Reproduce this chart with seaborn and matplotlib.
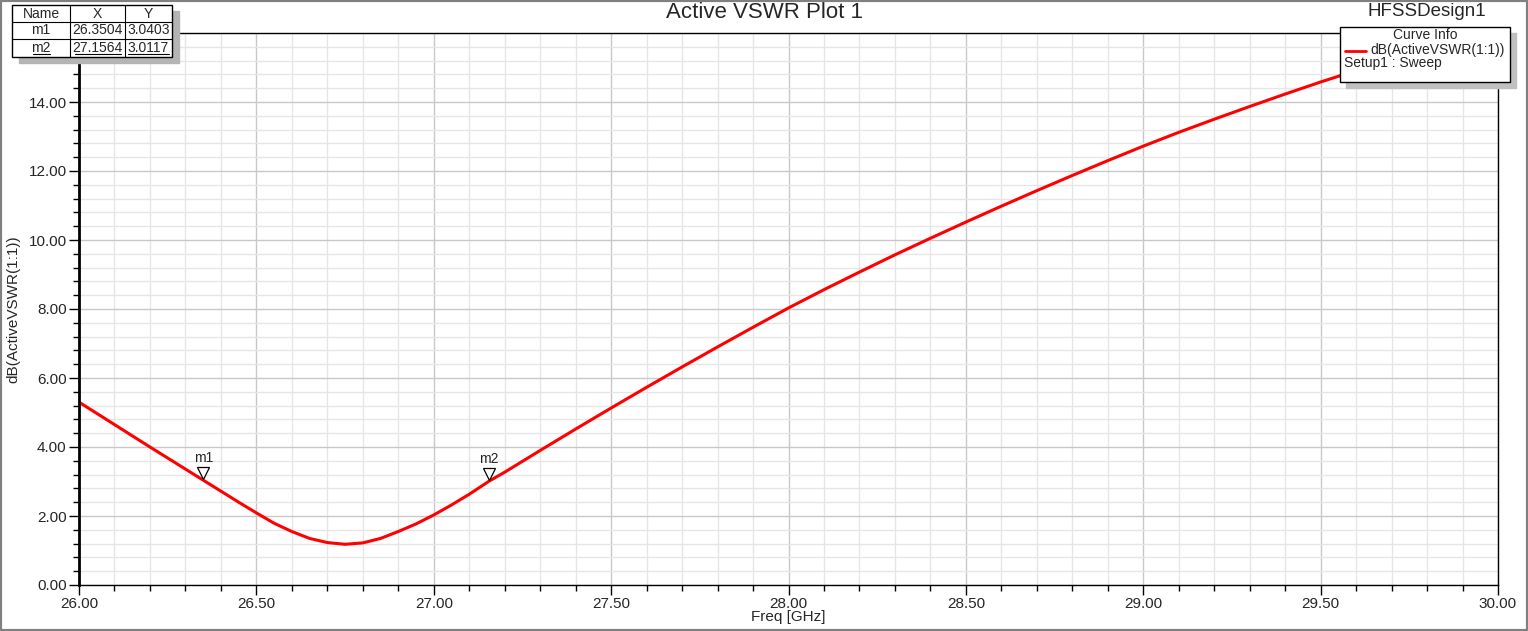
import matplotlib.pyplot as plt
import matplotlib.patches as mpatches
import matplotlib.transforms as mtransforms
from matplotlib.ticker import MultipleLocator
import numpy as np
import pandas as pd
import seaborn as sns

# curve
freq = [26.00, 26.10, 26.20, 26.30, 26.35, 26.40, 26.45, 26.50, 26.55, 26.60,
        26.65, 26.70, 26.75, 26.80, 26.85, 26.90, 26.95, 27.00, 27.05, 27.10,
        27.156, 27.20, 27.30, 27.40, 27.50, 27.60, 27.70, 27.80, 27.90, 28.00,
        28.10, 28.20, 28.30, 28.40, 28.50, 28.60, 28.70, 28.80, 28.90, 29.00,
        29.10, 29.20, 29.30, 29.40, 29.50, 29.60, 29.70, 29.80, 29.90, 30.00]
vswr_db = [5.30, 4.65, 4.00, 3.36, 3.04, 2.72, 2.40, 2.09, 1.79, 1.55,
           1.35, 1.23, 1.18, 1.22, 1.35, 1.55, 1.77, 2.03, 2.32, 2.63,
           3.01, 3.27, 3.90, 4.52, 5.13, 5.73, 6.32, 6.90, 7.47, 8.03,
           8.56, 9.07, 9.57, 10.05, 10.52, 10.98, 11.43, 11.87, 12.30, 12.72,
           13.12, 13.50, 13.87, 14.23, 14.58, 14.91, 15.23, 15.54, 15.84, 16.13]

marker_names = ["m1", "m2"]
marker_x = [26.3504, 27.1564]
marker_y = [3.0403, 3.0117]

df = pd.DataFrame({"Freq": freq, "dB": vswr_db})

sns.set_style("white")
plt.rcParams['font.family'] = ['Liberation Sans', 'DejaVu Sans']

W, H = 1528, 631
fig = plt.figure(figsize=(W / 100, H / 100), dpi=100)
ax = fig.add_axes([79 / W, 1 - 585 / H, (1498 - 79) / W, (585 - 33) / H])

sns.lineplot(data=df, x="Freq", y="dB", ax=ax, color="#ff0000", linewidth=2.2)

ax.set_xlim(26, 30)
ax.set_ylim(0, 16)
xt = [26, 26.5, 27, 27.5, 28, 28.5, 29, 29.5, 30]
yt = list(np.arange(0, 16, 2))
ax.set_xticks(xt)
ax.set_xticklabels(["%.2f" % v for v in xt])
ax.set_yticks(yt)
ax.set_yticklabels(["%.2f" % v for v in yt])
ax.xaxis.set_minor_locator(MultipleLocator(0.1))
ax.yaxis.set_minor_locator(MultipleLocator(0.4))
ax.grid(which="major", color="#c8c8c8", linewidth=1)
ax.grid(which="minor", color="#e6e6e6", linewidth=1)
ax.set_axisbelow(True)
ax.tick_params(which="major", direction="out", length=7, width=1, labelsize=11, color="black", pad=2)
ax.tick_params(which="minor", direction="out", length=4, width=1, color="black")
ax.tick_params(axis="x", which="both", bottom=True)
ax.tick_params(axis="y", which="both", left=True)
for side in ["top", "right", "bottom"]:
    ax.spines[side].set_color("black")
    ax.spines[side].set_linewidth(1)
ax.spines["left"].set_color("black")
ax.spines["left"].set_linewidth(2)
ax.set_xlabel("Freq [GHz]", fontsize=11, labelpad=-1)
ax.set_ylabel("dB(ActiveVSWR(1:1))", fontsize=11)
ax.yaxis.set_label_coords((20 - 79) / (1498 - 79), 0.5)

# markers
off = mtransforms.offset_copy(ax.transData, fig=fig, x=0, y=5, units="points")
ax.plot(marker_x, marker_y, linestyle="none", marker="v", markersize=9,
        markerfacecolor="white", markeredgecolor="black", markeredgewidth=0.9,
        transform=off, clip_on=False)
off2 = mtransforms.offset_copy(ax.transData, fig=fig, x=0, y=11, units="points")
for i, name in enumerate(marker_names):
    ax.text(marker_x[i], marker_y[i], name, transform=off2, ha="center", va="bottom",
            fontsize=10)

# titles
fig.text(764 / W, 1 - 12 / H, "Active VSWR Plot 1", ha="center", va="center", fontsize=16)
fig.text(1486 / W, 1 - 12 / H, "HFSSDesign1", ha="right", va="center", fontsize=13.5)

# marker table
col_x = [12, 70, 125, 172]
row_y = [5, 22, 39, 57]
fig.patches.append(mpatches.Rectangle((19 / W, 1 - 63 / H), 160 / W, 52 / H,
                                      transform=fig.transFigure, color="#b4b4b4", zorder=5))
fig.patches.append(mpatches.Rectangle((12 / W, 1 - 57 / H), 160 / W, 52 / H,
                                      transform=fig.transFigure, facecolor="white",
                                      edgecolor="black", linewidth=1, zorder=6))
for xx in col_x[1:-1]:
    fig.add_artist(plt.Line2D([xx / W, xx / W], [1 - 5 / H, 1 - 57 / H], color="black", lw=0.8, zorder=7))
for yy in row_y[1:-1]:
    fig.add_artist(plt.Line2D([12 / W, 172 / W], [1 - yy / H, 1 - yy / H], color="black", lw=0.8, zorder=7))
rows = [["Name", "X", "Y"]] + [[marker_names[i], "%.4f" % marker_x[i], "%.4f" % marker_y[i]] for i in range(2)]
for r, row in enumerate(rows):
    for c, txt in enumerate(row):
        cx = (col_x[c] + col_x[c + 1]) / 2
        cy = (row_y[r] + row_y[r + 1]) / 2
        fig.text(cx / W, 1 - cy / H, txt, ha="center", va="center", fontsize=10, zorder=8)
# selected marker row is underlined
for x0, x1 in [(33, 50), (75, 121), (128, 169)]:
    fig.add_artist(plt.Line2D([x0 / W, x1 / W], [1 - 54 / H, 1 - 54 / H], color="black", lw=0.8, zorder=8))

# curve info box
fig.patches.append(mpatches.Rectangle((1346 / W, 1 - 88 / H), 170 / W, 55 / H,
                                      transform=fig.transFigure, color="#c0c0c0", zorder=5))
fig.patches.append(mpatches.Rectangle((1340 / W, 1 - 82 / H), 170 / W, 55 / H,
                                      transform=fig.transFigure, facecolor="white",
                                      edgecolor="black", linewidth=1, zorder=6))
fig.text(1425 / W, 1 - 35 / H, "Curve Info", ha="center", va="center", fontsize=10, zorder=8)
fig.add_artist(plt.Line2D([1345 / W, 1366 / W], [1 - 51 / H, 1 - 51 / H], color="#ff0000", lw=2, zorder=8))
fig.text(1505 / W, 1 - 50 / H, "dB(ActiveVSWR(1:1))", ha="right", va="center", fontsize=10, zorder=8)
fig.text(1344 / W, 1 - 63 / H, "Setup1 : Sweep", ha="left", va="center", fontsize=10, zorder=8)

# window frame
fig.patches.append(mpatches.Rectangle((0, 0), 1, 1, transform=fig.transFigure, fill=False,
                                      edgecolor="#808080", linewidth=3, zorder=9))

fig.savefig("out.png", dpi=100)
